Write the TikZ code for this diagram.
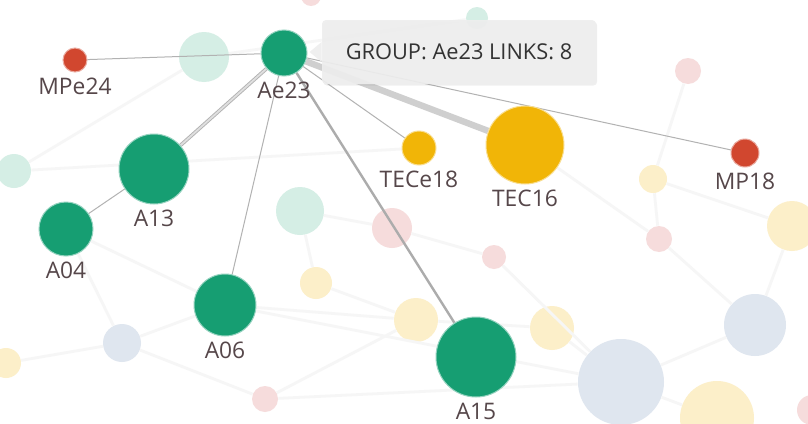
\documentclass[tikz,border=0pt]{standalone}
\usepackage{fontspec}
\setmainfont{Open Sans}
\usepackage{xcolor}
\usetikzlibrary{backgrounds,shadows}

\definecolor{grp}{HTML}{169E72}
\definecolor{mpc}{HTML}{D1472F}
\definecolor{tecc}{HTML}{F1B507}
\definecolor{labc}{HTML}{56474A}
\definecolor{tealbg}{HTML}{D5EEE5}
\definecolor{pinkbg}{HTML}{F6DCDC}
\definecolor{yelbg}{HTML}{FCEFC9}
\definecolor{bluebg}{HTML}{DFE6EF}

\pgfdeclarelayer{bg}
\pgfdeclarelayer{links}
\pgfsetlayers{bg,links,main}

\tikzset{
  dot/.style={circle,inner sep=0pt,fill=#1,draw=#1!45!white,line width=0.5pt},
  ghost/.style={circle,inner sep=0pt,fill=#1},
  lab/.style={font=\fontsize{11.4}{13}\selectfont,text=labc,inner sep=2pt},
  faint/.style={draw=gray!7,line width=1.4pt},
  link/.style={draw=gray!60,line width=0.5pt},
  tipbox/.style={rounded corners=2pt,fill=gray!13,fill opacity=0.92,text opacity=1,
    minimum width=137pt,minimum height=32pt,text=black!80,
    font=\fontsize{10.9}{13}\selectfont,
    drop shadow={opacity=0.12,shadow xshift=0.6pt,shadow yshift=-0.8pt}}
}

\begin{document}
\begin{tikzpicture}[x=0.5pt,y=-0.5pt]
  \useasboundingbox (0,0) rectangle (808,423);
  \clip (0,0) rectangle (808,423);

  % faded nodes behind the group
  \begin{pgfonlayer}{bg}
  \fill[white] (0,0) rectangle (808,423);
  \foreach \n/\x/\y/\r/\c in {
     b1/204/57/25/tealbg, b2/477/18/11/tealbg, b3/688/71/13/pinkbg,
     b4/653/179/14/yelbg, b5/14/171/17/tealbg, b6/300/211/24/tealbg,
     b7/392/228/20/pinkbg, b8/316/283/16/yelbg, b9/122/343/19/bluebg,
     b10/265/399/13/pinkbg, b11/6/363/15/yelbg, b12/416/320/22/yelbg,
     b13/494/257/12/pinkbg, b14/659/239/13/pinkbg, b15/552/328/22/yelbg,
     b16/621/382/43/bluebg, b17/755/325/31/bluebg, b18/717/418/37/yelbg,
     b19/792/226/25/yelbg, b20/812/410/15/pinkbg, b21/311/-4/10/pinkbg}
  { \node[ghost=\c,minimum size=\r pt] (\n) at (\x,\y) {}; }
  \end{pgfonlayer}

  % the group and its neighbours
  \foreach \n/\x/\y/\r/\c in {
     Ae23/284/53/23/grp, MPe24/75/60/12/mpc, A13/154/169/35/grp,
     A04/66/229/27/grp, A06/225/305/31/grp, A15/476/357/40/grp,
     TECe18/419/148/17/tecc, TEC16/525/145/39/tecc, MP18/745/153/14/mpc}
  { \node[dot=\c,minimum size=\r pt,
      label={[lab,label distance=0.5pt]below:\n}] (\n) at (\x,\y) {}; }

  \begin{pgfonlayer}{bg}
  \foreach \a/\b in {b1/b5, b5/TECe18, A04/b9, b9/A06, b9/b11, b9/b10,
     A06/b16, A06/b12, b8/b6, b6/b7, b7/b13, b13/b16, b12/b15, b15/b16,
     b16/b17, b17/b14, b14/b4, b4/b3, b4/b19, b17/b19, b16/b18,
     b10/b16, b12/b10, TEC16/b14, b2/b1, A04/A06, b8/b12}
  { \draw[faint] (\a) -- (\b); }
  \end{pgfonlayer}

  % links of Ae23
  \begin{pgfonlayer}{links}
  \foreach \t in {MPe24,A06,TECe18,MP18}
  { \draw[link] (Ae23) -- (\t); }
  \draw[link] (A04) -- (A13);
  \draw[draw=gray!60,line width=0.45pt,double=gray!25,double distance=0.9pt] (Ae23) -- (A13);
  \draw[draw=gray!65,line width=1.2pt] (Ae23) -- (A15);
  \draw[draw=gray!38,line width=3.2pt] (Ae23) -- (TEC16);
  \end{pgfonlayer}

  % tooltip
  \node[tipbox] (tip) at (459,52) {GROUP: Ae23 LINKS: 8};
  \fill[gray!13,fill opacity=0.92] ([yshift=5pt]tip.west) -- ++(-6pt,-5pt) -- ([yshift=-5pt]tip.west) -- cycle;
\end{tikzpicture}
\end{document}
